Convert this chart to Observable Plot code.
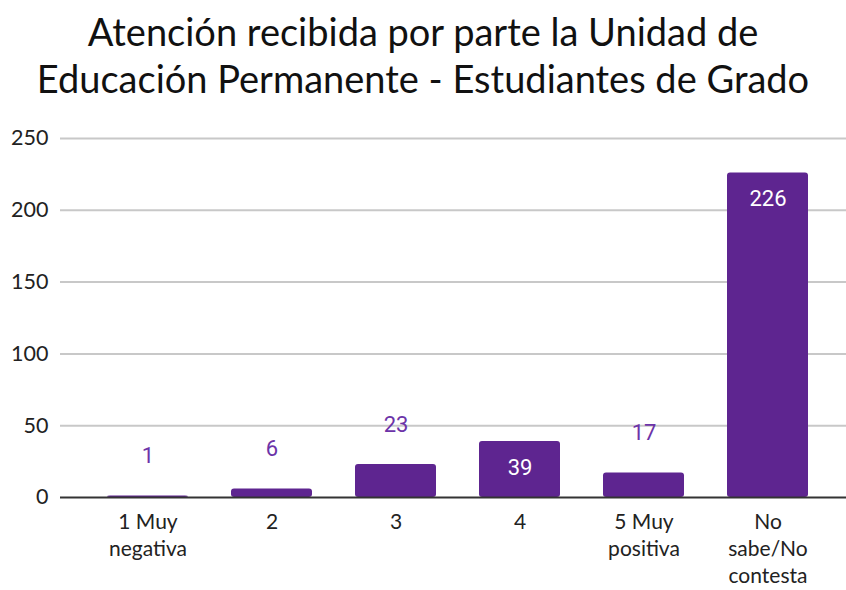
<!DOCTYPE html>
<html>
<head>
<meta charset="utf-8">
<script src="https://cdn.jsdelivr.net/npm/d3@7"></script>
<script src="https://cdn.jsdelivr.net/npm/@observablehq/plot@0.6"></script>
<style>
  html, body { margin: 0; padding: 0; background: #fff; }
  #title { font-family: Lato, "Open Sans", sans-serif; font-size: 38px; line-height: 47px; text-align: center; color: #111; width: 846px; padding-top: 8px; height: 110px; box-sizing: border-box; }
  #chart svg { display: block; }
</style>
</head>
<body>
<div id="title">Atención recibida por parte la Unidad de<br>Educación Permanente - Estudiantes de Grado</div>
<div id="chart"></div>
<script>
const categories = ["1 Muy negativa", "2", "3", "4", "5 Muy positiva", "No sabe/No contesta"];
const tickLabels = ["1 Muy\nnegativa", "2", "3", "4", "5 Muy\npositiva", "No\nsabe/No\ncontesta"];
const values = [1, 6, 23, 39, 17, 226];
const labelInside = [false, false, false, true, false, true];
const yTicks = [0, 50, 100, 150, 200, 250];

const data = categories.map((c, i) => ({cat: c, value: values[i], inside: labelInside[i]}));
const barColor = "#5e2590";
const labelColor = "#6c33a8";

const chart = Plot.plot({
  width: 846,
  height: 480,
  marginLeft: 60,
  marginRight: 0,
  marginTop: 28,
  marginBottom: 93,
  style: {fontFamily: "Lato, 'Open Sans', sans-serif", fontSize: "21px", color: "#222"},
  x: {domain: categories, range: [105, 811], paddingInner: 0.345, paddingOuter: 0},
  y: {domain: [0, 250], ticks: yTicks},
  marks: [
    Plot.gridY(yTicks.filter(d => d > 0), {stroke: "#c8c8c8", strokeOpacity: 1, strokeWidth: 2}),
    Plot.barY(data, {x: "cat", y: "value", fill: barColor, rx: 3}),
    Plot.ruleY([0], {stroke: "#333", strokeWidth: 2}),
    Plot.axisY({ticks: yTicks, tickSize: 0, tickPadding: 12, fontSize: 21.5, label: null, fill: "#222"}),
    Plot.axisX({tickSize: 0, tickPadding: 12, fontSize: 21, label: null, lineHeight: 1.3, fill: "#222",
      tickFormat: d => tickLabels[categories.indexOf(d)]}),
    Plot.text(data.filter(d => !d.inside), {x: "cat", y: "value", text: d => String(d.value), dy: -40,
      fill: labelColor, fontSize: 22, fontFamily: "Roboto, sans-serif"}),
    Plot.text(data.filter(d => d.inside), {x: "cat", y: "value", text: d => String(d.value), dy: 26,
      fill: "#fff", fontSize: 22, fontFamily: "Roboto, sans-serif"})
  ]
});
document.getElementById("chart").appendChild(chart);
</script>
</body>
</html>
